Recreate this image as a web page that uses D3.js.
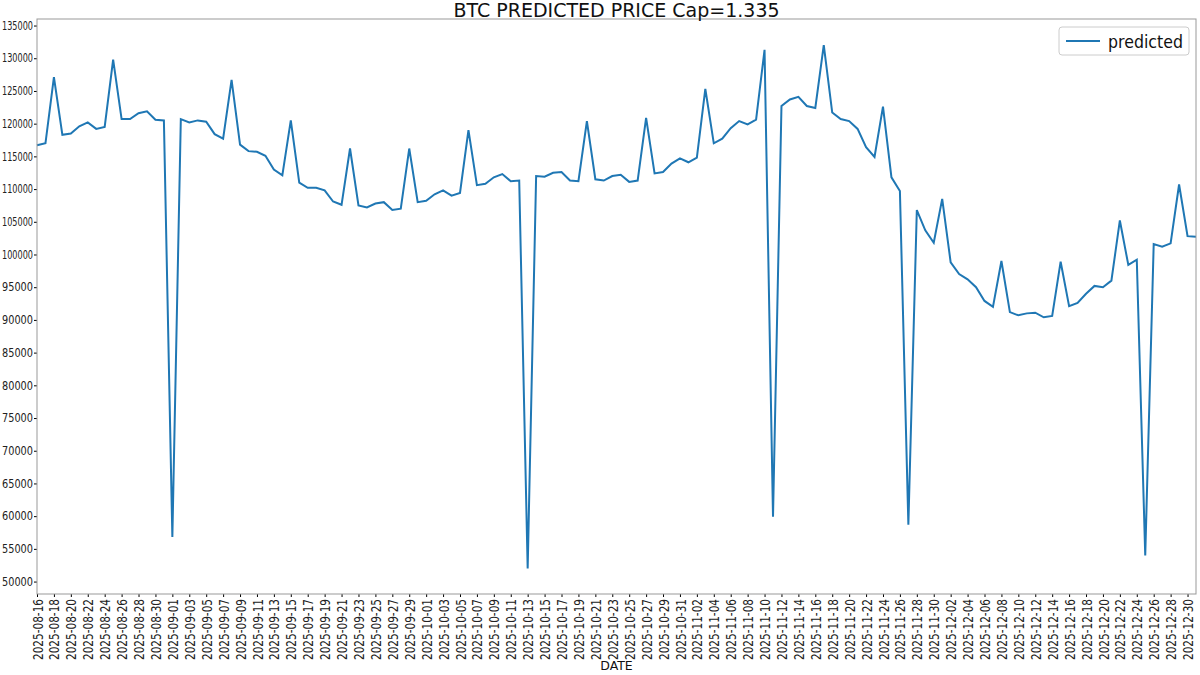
<!DOCTYPE html>
<html><head><meta charset="utf-8">
<script src="https://cdn.jsdelivr.net/npm/d3@7"></script>
<style>body{margin:0;background:#fff;font-family:"DejaVu Sans",sans-serif}</style>
</head><body><svg id="c" width="1200" height="675"></svg>
<script>
const startDate = "2025-08-16";
const predicted = [116700,117000,127100,118300,118500,119600,120200,119200,119500,129800,
120700,120700,121600,121900,120600,120500,56800,120700,120200,120500,
120300,118400,117700,126700,116800,115800,115700,115100,113000,112100,
120500,111000,110200,110200,109800,108100,107600,116200,107500,107200,
107800,108000,106800,107000,116200,108000,108200,109200,109800,109000,
109400,119000,110600,110800,111800,112300,111200,111300,52000,112000,
111900,112500,112600,111300,111200,120400,111500,111300,112000,112200,
111100,111300,120900,112400,112600,113900,114700,114100,114800,125300,
117000,117700,119300,120400,119900,120600,131300,59900,122700,123700,
124100,122700,122400,132000,121700,120700,120400,119200,116400,114900,
122600,111800,109700,58700,106800,103700,101800,108500,98800,97000,
96200,95000,92900,92000,99000,91200,90700,91000,91100,90400,
90600,98900,92100,92600,94000,95200,95000,96000,105200,98400,
99200,54000,101600,101200,101700,110700,102800,102700];
const yTicks = d3.range(50000,135001,5000);
const parse = d3.utcParse("%Y-%m-%d");
const t0 = parse(startDate);
const data = predicted.map((v,i)=>({d:d3.utcDay.offset(t0,i),v}));
const xTicks = d3.range(0,data.length,2).map(i=>data[i].d);

const svg = d3.select("#c");
const L=37,R=1196,T=19,B=594;
const x = d3.scaleUtc().domain([data[0].d,data[data.length-1].d]).range([L,R]);
const y = d3.scaleLinear().domain([48100,136000]).range([B,T]);

svg.append("path").datum(data).attr("fill","none").attr("stroke","#1f77b4").attr("stroke-width",2)
 .attr("d",d3.line().x(d=>x(d.d)).y(d=>y(d.v)));

const ya = svg.append("g").attr("transform",`translate(${L},0)`)
 .call(d3.axisLeft(y).tickValues(yTicks).tickFormat(d3.format("d")).tickSize(3).tickSizeOuter(0));
ya.selectAll("text").attr("font-size",11.5).attr("fill","#222").attr("font-family","DejaVu Sans")
 .attr("x",-4).attr("textLength",31).attr("lengthAdjust","spacingAndGlyphs");
const xa = svg.append("g").attr("transform",`translate(0,${B})`)
 .call(d3.axisBottom(x).tickValues(xTicks).tickFormat(d3.utcFormat("%Y-%m-%d")).tickSize(3).tickSizeOuter(0));
xa.selectAll("text").attr("font-size",14.5).attr("fill","#222").attr("font-family","DejaVu Sans")
 .attr("transform","rotate(-90)").attr("text-anchor","end").attr("dy","0.35em").attr("x",-5).attr("y",0)
 .attr("textLength",61).attr("lengthAdjust","spacingAndGlyphs");
svg.selectAll(".domain").remove();
svg.append("rect").attr("x",L).attr("y",T).attr("width",R-L).attr("height",B-T)
 .attr("fill","none").attr("stroke","#999").attr("stroke-width",1);

svg.append("text").attr("x",(L+R)/2).attr("y",17).attr("text-anchor","middle")
 .attr("font-size",19).attr("fill","#111").text("BTC PREDICTED PRICE Cap=1.335");
svg.append("text").attr("x",(L+R)/2).attr("y",670).attr("text-anchor","middle")
 .attr("font-size",12.5).attr("fill","#111").text("DATE");

const lg = svg.append("g");
lg.append("rect").attr("x",1059).attr("y",27).attr("width",130).attr("height",28).attr("rx",3)
 .attr("fill","#fff").attr("stroke","#ccc");
lg.append("line").attr("x1",1066).attr("x2",1100).attr("y1",41).attr("y2",41).attr("stroke","#1f77b4").attr("stroke-width",2);
lg.append("text").attr("x",1108).attr("y",48).attr("font-size",18).attr("fill","#111")
 .attr("textLength",75).attr("lengthAdjust","spacingAndGlyphs").text("predicted");
</script></body></html>
